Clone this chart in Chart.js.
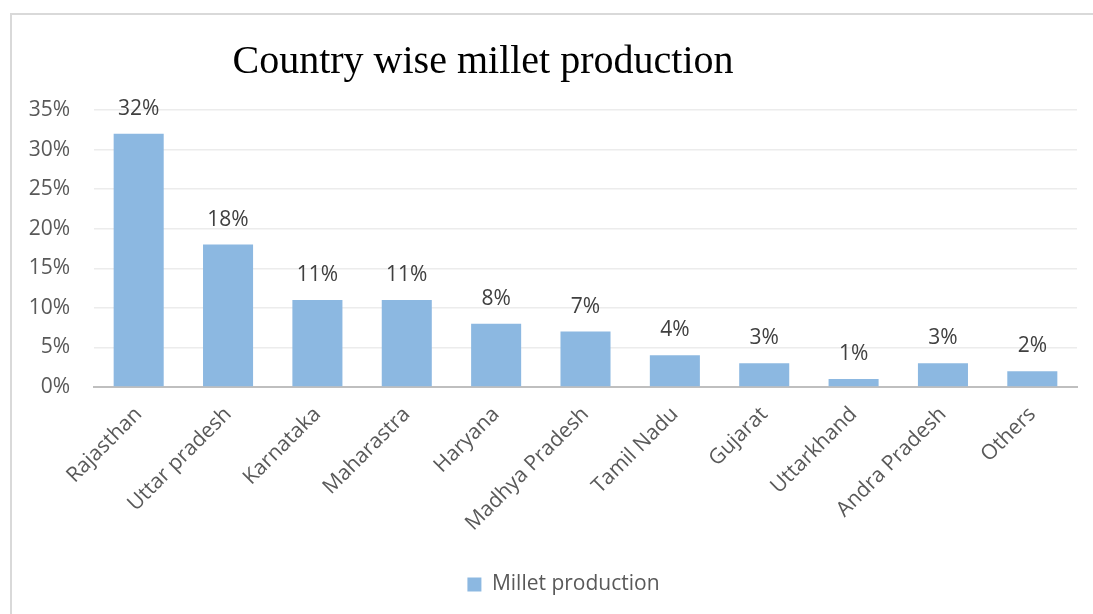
<!DOCTYPE html>
<html>
<head>
<meta charset="utf-8">
<script src="https://cdn.jsdelivr.net/npm/chart.js@4/dist/chart.umd.min.js"></script>
<style>
  html, body { margin: 0; padding: 0; background: #ffffff; }
  #wrap { position: relative; width: 1093px; height: 614px; overflow: hidden; }
  #frame { position: absolute; left: 10px; top: 13px; width: 1200px; height: 700px; border: 2px solid #d9d9d9; box-sizing: border-box; pointer-events: none; }
  canvas { position: absolute; left: 0; top: 0; }
</style>
</head>
<body>
<div id="wrap">
  <div id="frame"></div>
  <canvas id="c" width="1093" height="614"></canvas>
</div>
<script>
const chartTitle = "Country wise millet production";
const seriesName = "Millet production";
const categories = ["Rajasthan", "Uttar pradesh", "Karnataka", "Maharastra", "Haryana", "Madhya Pradesh", "Tamil Nadu", "Gujarat", "Uttarkhand", "Andra Pradesh", "Others"];
const values = [0.32, 0.18, 0.11, 0.11, 0.08, 0.07, 0.04, 0.03, 0.01, 0.03, 0.02];
const yTickStep = 0.05;
const yMax = 0.35;

const pct = v => Math.round(v * 100) + "%";
const FONT = "'Open Sans', sans-serif";

const titlePlugin = {
  id: "customTitle",
  afterDraw(chart) {
    const ctx = chart.ctx;
    ctx.save();
    ctx.font = "40px 'Liberation Serif', 'Times New Roman', serif";
    ctx.fillStyle = "#000000";
    ctx.textAlign = "center";
    ctx.textBaseline = "alphabetic";
    ctx.fillText(chartTitle, 483, 73);
    ctx.restore();
  }
};

const labelPlugin = {
  id: "barLabels",
  afterDatasetsDraw(chart) {
    const ctx = chart.ctx;
    const meta = chart.getDatasetMeta(0);
    ctx.save();
    ctx.font = "21px " + FONT;
    ctx.fillStyle = "#404040";
    ctx.textAlign = "center";
    ctx.textBaseline = "middle";
    meta.data.forEach((bar, i) => {
      ctx.fillText(pct(chart.data.datasets[0].data[i]), bar.x, bar.y - 25);
    });
    ctx.restore();
  }
};

const legendShift = {
  id: "legendShift",
  afterLayout(chart) {
    if (chart.legend) {
      chart.legend.left += 25;
      chart.legend.right += 25;
    }
  }
};

new Chart(document.getElementById("c"), {
  type: "bar",
  data: {
    labels: categories,
    datasets: [{
      label: seriesName,
      data: values,
      backgroundColor: "#8cb8e1",
      borderWidth: 0,
      categoryPercentage: 1.0,
      barPercentage: 0.56
    }]
  },
  options: {
    responsive: false,
    animation: false,
    events: [],
    layout: { padding: { left: 0, right: 16, top: 110, bottom: 9 } },
    plugins: {
      title: { display: false },
      tooltip: { enabled: false },
      legend: {
        position: "bottom",
        labels: {
          boxWidth: 14,
          boxHeight: 14,
          padding: 10,
          color: "#595959",
          font: { family: FONT, size: 21 }
        }
      }
    },
    scales: {
      x: {
        grid: { display: false, drawTicks: false },
        border: { display: true, color: "#bfbfbf", width: 2 },
        ticks: {
          maxRotation: 45,
          minRotation: 45,
          padding: 15,
          color: "#595959",
          font: { family: FONT, size: 21 }
        },
        afterFit(scale) { scale.height = 177; }
      },
      y: {
        min: 0,
        max: yMax,
        grid: { color: "#ececec", lineWidth: 1.5, drawTicks: false },
        border: { display: false },
        ticks: {
          stepSize: yTickStep,
          padding: 24,
          color: "#595959",
          font: { family: FONT, size: 21 },
          callback: v => pct(v)
        },
        afterFit(scale) { scale.width = 94; }
      }
    }
  },
  plugins: [titlePlugin, labelPlugin, legendShift]
});
</script>
</body>
</html>
